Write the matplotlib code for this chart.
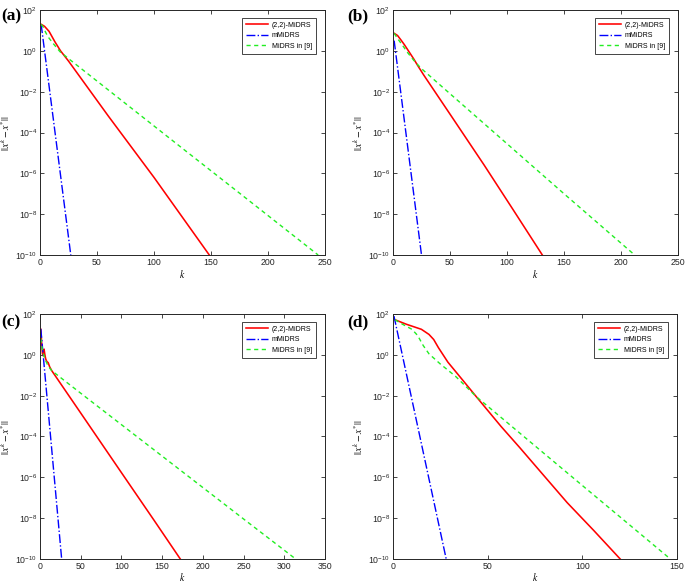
import numpy as np
import matplotlib
matplotlib.use("Agg")
import matplotlib.pyplot as plt
from matplotlib.ticker import FixedLocator, NullLocator

plt.rcParams['font.family'] = ['Liberation Sans', 'DejaVu Sans']
plt.rcParams['mathtext.fontset'] = 'stix'

# residual exponents: log10 ||x^k - x*||
# (a)
a_red_k = [1, 4, 8, 13, 18, 25, 60, 100, 148.5]
a_red_log = [1.3, 1.2, 0.95, 0.45, 0.0, -0.5, -3.2, -6.2, -10.0]
a_blue_k = [1, 27]
a_blue_log = [1.3, -10.0]
a_green_k = [1, 3, 5, 7, 12, 17.5, 25, 75, 125, 175, 244]
a_green_log = [1.3, 1.15, 0.9, 0.69, 0.33, -0.04, -0.38, -2.58, -4.78, -6.97, -10.0]

# (b)
b_red_k = [1, 4, 7, 10, 14, 18, 22, 27, 50, 80, 105, 131]
b_red_log = [0.86, 0.75, 0.53, 0.3, -0.04, -0.38, -0.75, -1.19, -3.1, -5.6, -7.75, -10.0]
b_blue_k = [1, 25]
b_blue_log = [0.5, -10.0]
b_green_k = [1, 4, 8, 13, 18, 24.5, 50, 100, 150, 212]
b_green_log = [0.86, 0.6, 0.3, -0.1, -0.45, -0.85, -2.1, -4.55, -7.0, -10.0]

# (c)
c_red_k = [1, 2, 3, 4, 5, 6, 7, 8, 9, 10, 12, 14.5, 50, 100, 140, 172.3]
c_red_log = [1.25, 0.6, 0.05, -0.05, 0.28, 0.0, -0.2, -0.3, -0.35, -0.38, -0.6, -0.78,
             -2.85, -5.77, -8.1, -10.0]
c_blue_k = [1, 26.6]
c_blue_log = [1.27, -10.0]
c_green_k = [1, 3, 6, 10, 14.5, 50, 100, 150, 200, 250, 314]
c_green_log = [0.8, 0.2, -0.2, -0.55, -0.78, -1.88, -3.42, -4.96, -6.5, -8.04, -10.0]

# (d)
d_red_k = [1, 7, 15, 19, 21.5, 24, 29, 37, 44, 57, 67, 80, 92, 106, 120]
d_red_log = [1.72, 1.5, 1.25, 1.0, 0.75, 0.35, -0.36, -1.26, -2.05, -3.5, -4.55, -5.95,
             -7.24, -8.6, -10.0]
d_blue_k = [0.5, 28.1]
d_blue_log = [1.9, -10.0]
d_green_k = [1, 5, 10, 13, 16, 19, 25, 33, 44, 70, 100, 130, 146.5]
d_green_log = [1.72, 1.5, 1.25, 0.95, 0.45, 0.05, -0.45, -1.05, -2.05, -4.07, -6.4, -8.72, -10.0]

panels = [
    ('(a)', 250, [0, 50, 100, 150, 200, 250],
     (a_red_k, a_red_log), (a_blue_k, a_blue_log), (a_green_k, a_green_log)),
    ('(b)', 250, [0, 50, 100, 150, 200, 250],
     (b_red_k, b_red_log), (b_blue_k, b_blue_log), (b_green_k, b_green_log)),
    ('(c)', 350, [0, 50, 100, 150, 200, 250, 300, 350],
     (c_red_k, c_red_log), (c_blue_k, c_blue_log), (c_green_k, c_green_log)),
    ('(d)', 150, [0, 50, 100, 150],
     (d_red_k, d_red_log), (d_blue_k, d_blue_log), (d_green_k, d_green_log)),
]

W, H = 685, 583
fig = plt.figure(figsize=(W / 100, H / 100), dpi=100)

# axes boxes in pixels: left, top, right, bottom
boxes = [(40, 10, 325, 255), (393, 10, 678, 255),
         (40, 314, 325, 559), (393, 314, 677, 559)]
tag_pos = [(1, 16), (347, 16), (1, 322), (347, 322)]

axc = '#262626'
for i, ((tag, xmax, xt, red, blue, green), (l, t, r, b), (tx, ty)) in enumerate(
        zip(panels, boxes, tag_pos)):
    ax = fig.add_axes([l / W, 1 - b / H, (r - l) / W, (b - t) / H])
    ax.semilogy(red[0], 10 ** np.array(red[1]), color='#ff0000', lw=1.15, label='(2,2)-MiDRS')
    ax.semilogy(blue[0], 10 ** np.array(blue[1]), color='#0000ff', lw=1.0, ls='-.', label='mMiDRS')
    ax.semilogy(green[0], 10 ** np.array(green[1]), color='#22ee22', lw=1.0, ls='--',
                dashes=(3, 2.5), label='MiDRS in [9]')
    ax.set_xlim(0, xmax)
    ax.set_ylim(1e-10, 1e2)
    ax.set_xticks(xt)
    ax.yaxis.set_major_locator(FixedLocator([10.0 ** e for e in range(-10, 3, 2)]))
    ax.yaxis.set_minor_locator(NullLocator())
    ax.tick_params(which='both', direction='in', top=True, right=True, length=3,
                   width=0.6, colors=axc, labelsize=6.3, pad=2)
    for s in ax.spines.values():
        s.set_color(axc)
        s.set_linewidth(0.7)
    ax.set_xlabel(r'$k$', fontsize=7, labelpad=1 if i < 2 else 0)
    ax.set_ylabel(r'$||x^k - x^{*}||$', fontsize=7, labelpad=2)
    leg = ax.legend(loc='upper right', bbox_to_anchor=(1 - 9 / (r - l), 1 - 8 / (b - t)),
                    borderaxespad=0, fontsize=5, fancybox=False, framealpha=1,
                    edgecolor=axc, handlelength=3.2, labelspacing=0.5,
                    borderpad=0.55, handletextpad=0.6)
    leg.get_frame().set_linewidth(0.6)
    fig.text(tx / W, 1 - ty / H, tag, fontsize=12.5, fontweight='bold',
             family='Liberation Serif', va='center', ha='left')

plt.savefig('out.png', dpi=100)
